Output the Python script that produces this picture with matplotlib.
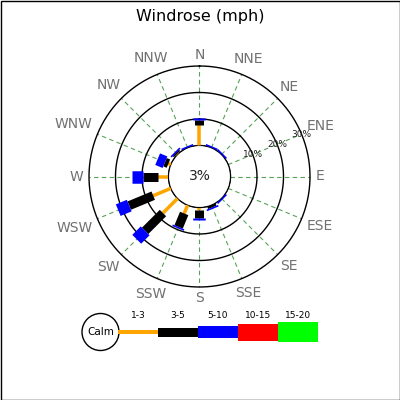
import numpy as np
import matplotlib
matplotlib.use("Agg")
import matplotlib.pyplot as plt
from matplotlib.patches import Circle, Rectangle

# ---------------- data ----------------
directions = ['N', 'NNE', 'NE', 'ENE', 'E', 'ESE', 'SE', 'SSE',
              'S', 'SSW', 'SW', 'WSW', 'W', 'WNW', 'NW', 'NNW']
range_labels = ['1-3', '3-5', '5-10', '10-15', '15-20']
range_colors = ['#ffa500', '#000000', '#0000ff', '#ff0000', '#00ff00']
# percentage per direction for each speed range
v_1_3   = [7.7, 0, 0, 0, 0, 0, 0, 0, 1.0, 3.4, 7.8, 7.2, 3.8, 1.0, 0.3, 0]
v_3_5   = [1.9, 0, 0, 0, 0, 0, 0, 0.9, 3.1, 5.5, 9.5, 9.8, 5.7, 1.4, 0.5, 0]
v_5_10  = [0.2, 0.2, 0.2, 0, 0, 0, 0.2, 0.3, 0.4, 0.4, 4.5, 4.5, 4.2, 3.0, 0.2, 0.2]
v_10_15 = [0, 0, 0, 0, 0, 0, 0, 0, 0, 0, 0, 0, 0, 0, 0, 0]
v_15_20 = [0, 0, 0, 0, 0, 0, 0, 0, 0, 0, 0, 0, 0, 0, 0, 0]
calm_label = '3%'
ring_values = [10, 20, 30]
title = 'Windrose (mph)'

series = [v_1_3, v_3_5, v_5_10, v_10_15, v_15_20]

# ---------------- styling ----------------
W = H = 400
DPI = 100
bar_widths_px = [3.5, 9, 12.5, 17, 20]
pt = 72.0 / DPI

fig = plt.figure(figsize=(W / DPI, H / DPI), dpi=DPI)
fig.patch.set_facecolor('white')

# background axes in pixel coordinates (legend, frame)
bg = fig.add_axes([0, 0, 1, 1])
bg.set_xlim(0, W)
bg.set_ylim(H, 0)
bg.axis('off')
bg.add_patch(Rectangle((0.5, 0.5), W - 1, H - 1, fill=False, ec='black', lw=1.0))

# polar axes
cx, cy = 199.5, 176.5
R_outer = 110.5
R_calm = 31.0
rmax = ring_values[-1]
scale = (R_outer - R_calm) / rmax          # px per percent
rorigin = -R_calm / scale
rlim_top = rmax + 1.5
R_axes = (rlim_top - rorigin) * scale
ax = fig.add_axes([(cx - R_axes) / W, 1 - (cy + R_axes) / H,
                   2 * R_axes / W, 2 * R_axes / H], projection='polar')
ax.set_theta_zero_location('N')
ax.set_theta_direction(-1)
ax.set_rlim(0, rlim_top)
ax.set_rorigin(rorigin)
ax.grid(False)
ax.set_xticks([])
ax.set_yticks([])
for s in ax.spines.values():
    s.set_visible(False)
ax.patch.set_visible(False)

thetas = np.deg2rad(np.arange(len(directions)) * 360.0 / len(directions))
full = np.linspace(0, 2 * np.pi, 400)

# radial dashed grid
for th in thetas:
    ax.plot([th, th], [0, rmax], color='#2e8b2e', lw=0.8, alpha=0.8,
            dashes=(4, 3), zorder=1)
# rings
for rv in [0] + ring_values:
    ax.plot(full, np.full_like(full, rv), color='black', lw=1.0, zorder=2)

# ring labels along ENE
lab_th = np.deg2rad(67.5)
for rv in ring_values:
    ax.text(lab_th, rv, f'{rv}%', ha='center', va='center', fontsize=6.5,
            color='#222222', zorder=3)

# bars
minlen = 1.6 / scale
for i, th in enumerate(thetas):
    bottom = 0.0
    for k, vals in enumerate(series):
        v = vals[i]
        if v > 0:
            top = bottom + v
            ax.plot([th, th], [bottom, max(top, bottom + minlen)],
                    color=range_colors[k], lw=bar_widths_px[k] * pt,
                    solid_capstyle='butt', zorder=4 + k)
            bottom = top

# centre label
ax.text(0.5, 0.5, calm_label, transform=ax.transAxes, ha='center',
        va='center', fontsize=10, color='#222222')

# direction labels placed with box edge at fixed radius
fig.canvas.draw()
renderer = fig.canvas.get_renderer()
base_px = 116.5
for name, th in zip(directions, thetas):
    t = ax.text(th, 0, name, ha='center', va='center', fontsize=10,
                color='#707070', clip_on=False)
    bb = t.get_window_extent(renderer)
    w2, h2 = bb.width / 2, bb.height / 2 * 0.75
    extra = w2 * abs(np.sin(th)) + h2 * abs(np.cos(th))
    t.set_position((th, (base_px + extra - R_calm) / scale))

# title
fig.text(0.5, 1 - 17.0 / H, title, ha='center', va='center', fontsize=11.5,
         color='black')

# legend
ly = 332
calm_c = (100.5, ly)
bg.add_patch(Circle(calm_c, 18.5, fill=False, ec='black', lw=1.0))
bg.text(calm_c[0], ly, 'Calm', ha='center', va='center', fontsize=7.5)
x0 = 118.0
seg = 40.0
for k, (lab, col) in enumerate(zip(range_labels, range_colors)):
    hgt = bar_widths_px[k]
    bg.add_patch(Rectangle((x0 + k * seg, ly - hgt / 2), seg, hgt,
                           facecolor=col, edgecolor='none'))
    bg.text(x0 + k * seg + seg / 2, 315, lab, ha='center', va='center',
            fontsize=6.5)

fig.savefig('out.png', dpi=DPI)
